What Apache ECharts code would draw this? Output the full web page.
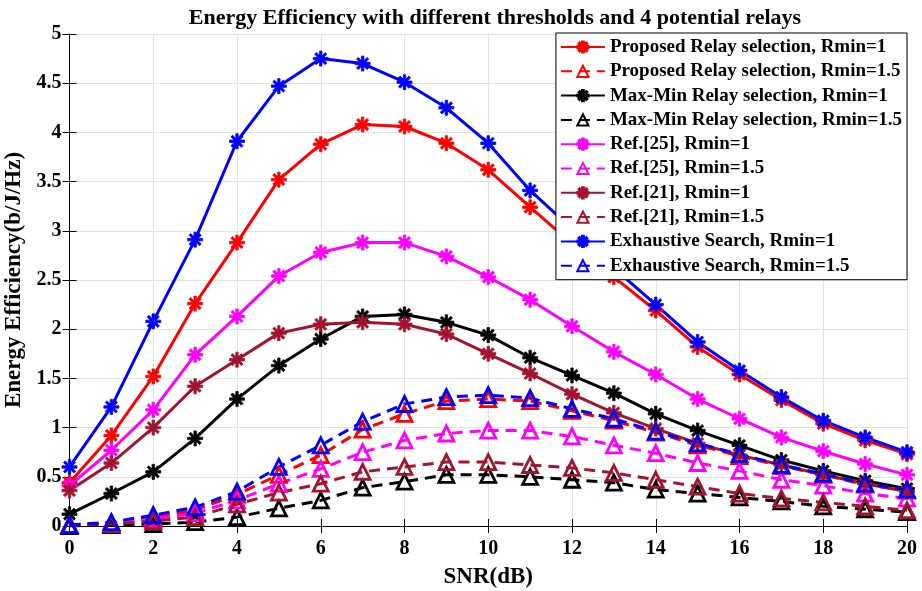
<!DOCTYPE html>
<html>
<head>
<meta charset="utf-8">
<title>Energy Efficiency</title>
<script src="https://cdn.jsdelivr.net/npm/echarts@6/dist/echarts.min.js"></script>
<style>
  html, body { margin: 0; padding: 0; background: #fff; }
  #chart { width: 922px; height: 591px; }
</style>
</head>
<body>
<div id="chart"></div>
<script>
// SNR (dB) on the x axis
const snr = [0, 1, 2, 3, 4, 5, 6, 7, 8, 9, 10, 11, 12, 13, 14, 15, 16, 17, 18, 19, 20];

// Rmin = 1 curves
const proposedR1 = [0.44, 0.92, 1.52, 2.26, 2.88, 3.52, 3.88, 4.08, 4.06, 3.89, 3.62, 3.24, 2.87, 2.53, 2.19, 1.82, 1.54, 1.28, 1.04, 0.87, 0.73];
const maxMinR1 = [0.12, 0.33, 0.55, 0.89, 1.29, 1.63, 1.90, 2.13, 2.15, 2.07, 1.94, 1.71, 1.53, 1.35, 1.14, 0.97, 0.82, 0.67, 0.56, 0.46, 0.38];
const ref25R1 = [0.41, 0.77, 1.18, 1.74, 2.13, 2.54, 2.78, 2.88, 2.88, 2.74, 2.53, 2.30, 2.03, 1.77, 1.54, 1.29, 1.09, 0.90, 0.76, 0.63, 0.52];
const ref21R1 = [0.36, 0.64, 1.00, 1.42, 1.69, 1.96, 2.05, 2.07, 2.05, 1.95, 1.75, 1.55, 1.34, 1.15, 0.99, 0.84, 0.72, 0.62, 0.52, 0.43, 0.35];
const exhaustiveR1 = [0.60, 1.21, 2.08, 2.91, 3.91, 4.47, 4.75, 4.70, 4.51, 4.25, 3.89, 3.41, 3.02, 2.62, 2.25, 1.87, 1.58, 1.31, 1.07, 0.90, 0.75];

// Rmin = 1.5 curves
const proposedR15 = [0.01, 0.03, 0.09, 0.16, 0.32, 0.52, 0.72, 0.98, 1.14, 1.27, 1.29, 1.27, 1.17, 1.07, 0.95, 0.82, 0.71, 0.61, 0.52, 0.42, 0.36];
const maxMinR15 = [0.00, 0.01, 0.02, 0.04, 0.09, 0.18, 0.26, 0.39, 0.45, 0.52, 0.52, 0.50, 0.47, 0.44, 0.37, 0.33, 0.29, 0.25, 0.20, 0.17, 0.14];
const ref25R15 = [0.01, 0.03, 0.07, 0.13, 0.26, 0.43, 0.58, 0.75, 0.87, 0.94, 0.97, 0.97, 0.91, 0.82, 0.74, 0.64, 0.56, 0.47, 0.41, 0.33, 0.28];
const ref21R15 = [0.01, 0.02, 0.05, 0.09, 0.22, 0.34, 0.43, 0.55, 0.60, 0.65, 0.65, 0.62, 0.59, 0.54, 0.47, 0.40, 0.33, 0.28, 0.24, 0.20, 0.16];
const exhaustiveR15 = [0.01, 0.04, 0.11, 0.19, 0.35, 0.60, 0.82, 1.06, 1.24, 1.31, 1.33, 1.30, 1.19, 1.09, 0.96, 0.84, 0.73, 0.62, 0.53, 0.43, 0.37];

const xTicks = [0, 2, 4, 6, 8, 10, 12, 14, 16, 18, 20];
const yTicks = [0, 0.5, 1, 1.5, 2, 2.5, 3, 3.5, 4, 4.5, 5];

const FONT = '"Liberation Serif", "Times New Roman", serif';

// MATLAB style asterisk marker
const ASTERISK = 'path://M0 8.4L20 8.4L20 11.6L0 11.6Z M8.4 0L11.6 0L11.6 20L8.4 20Z ' +
    'M4.13 1.87L18.13 15.87L15.87 18.13L1.87 4.13Z M15.87 1.87L18.13 4.13L4.13 18.13L1.87 15.87Z';

const curves = [
    { name: 'Proposed Relay selection, Rmin=1', data: proposedR1, color: '#ff0000', dashed: false },
    { name: 'Proposed Relay selection, Rmin=1.5', data: proposedR15, color: '#ff0000', dashed: true },
    { name: 'Max-Min Relay selection, Rmin=1', data: maxMinR1, color: '#000000', dashed: false },
    { name: 'Max-Min Relay selection, Rmin=1.5', data: maxMinR15, color: '#000000', dashed: true },
    { name: 'Ref.[25], Rmin=1', data: ref25R1, color: '#ff00ff', dashed: false },
    { name: 'Ref.[25], Rmin=1.5', data: ref25R15, color: '#ff00ff', dashed: true },
    { name: 'Ref.[21], Rmin=1', data: ref21R1, color: '#a2142f', dashed: false },
    { name: 'Ref.[21], Rmin=1.5', data: ref21R15, color: '#a2142f', dashed: true },
    { name: 'Exhaustive Search, Rmin=1', data: exhaustiveR1, color: '#0000ff', dashed: false },
    { name: 'Exhaustive Search, Rmin=1.5', data: exhaustiveR15, color: '#0000ff', dashed: true }
];

const series = curves.map(c => ({
    name: c.name,
    type: 'line',
    data: snr.map((x, i) => [x, c.data[i]]),
    symbol: c.dashed ? 'triangle' : ASTERISK,
    symbolSize: 15,
    symbolKeepAspect: true,
    lineStyle: {
        color: c.color,
        width: 3,
        type: c.dashed ? [11, 7] : 'solid'
    },
    itemStyle: c.dashed
        ? { color: 'rgba(255,255,255,0)', borderColor: c.color, borderWidth: 2.8 }
        : { color: c.color, borderColor: c.color, borderWidth: 0.8 },
    emphasis: { disabled: true },
    animation: false
}));

const chart = echarts.init(document.getElementById('chart'));

const tickLabel = { color: '#000', fontFamily: FONT, fontWeight: 'bold', fontSize: 20 };
const nameStyle = { color: '#000', fontFamily: FONT, fontWeight: 'bold', fontSize: 23 };

chart.setOption({
    backgroundColor: '#fff',
    animation: false,
    title: {
        text: 'Energy Efficiency with different thresholds and 4 potential relays',
        left: 490,
        top: 2,
        textAlign: 'center',
        textStyle: { color: '#000', fontFamily: FONT, fontWeight: 'bold', fontSize: 22 }
    },
    grid: { left: 69.5, right: 15, top: 34, bottom: 65, outerBoundsMode: 'none', containLabel: false },
    legend: {
        orient: 'vertical',
        right: 15,
        top: 33,
        align: 'left',
        backgroundColor: '#fff',
        borderColor: '#000',
        borderWidth: 1,
        borderRadius: 0,
        padding: [4, 5, 4, 4],
        itemWidth: 44,
        itemHeight: 14,
        itemGap: 4.3,
        textStyle: { color: '#000', fontFamily: FONT, fontWeight: 'bold', fontSize: 19, lineHeight: 20 },
        data: curves.map(c => c.name)
    },
    xAxis: [
        {
            type: 'value',
            min: 0,
            max: 20,
            interval: 2,
            name: 'SNR(dB)',
            nameLocation: 'middle',
            nameGap: 40,
            nameTextStyle: nameStyle,
            axisLine: { show: true, lineStyle: { color: '#000', width: 1 } },
            axisTick: { show: true, inside: true, length: 7, lineStyle: { color: '#000' } },
            axisLabel: Object.assign({ margin: 13, formatter: v => xTicks.includes(v) ? String(v) : '' }, tickLabel),
            splitLine: { show: true, lineStyle: { color: '#e1e1e1', width: 1 } }
        },
        {
            type: 'value',
            position: 'top',
            min: 0,
            max: 20,
            interval: 2,
            axisLine: { show: true, lineStyle: { color: '#000', width: 1 } },
            axisTick: { show: true, inside: true, length: 7, lineStyle: { color: '#000' } },
            axisLabel: { show: false },
            splitLine: { show: false }
        }
    ],
    yAxis: [
        {
            type: 'value',
            min: 0,
            max: 5,
            interval: 0.5,
            name: 'Energy Efficiency(b/J/Hz)',
            nameLocation: 'middle',
            nameGap: 41,
            nameTextStyle: nameStyle,
            axisLine: { show: true, lineStyle: { color: '#000', width: 1 } },
            axisTick: { show: true, inside: true, length: 7, lineStyle: { color: '#000' } },
            axisLabel: Object.assign({ margin: 8, formatter: v => yTicks.includes(v) ? String(v) : '' }, tickLabel),
            splitLine: { show: true, lineStyle: { color: '#e1e1e1', width: 1 } }
        },
        {
            type: 'value',
            position: 'right',
            min: 0,
            max: 5,
            interval: 0.5,
            axisLine: { show: true, lineStyle: { color: '#000', width: 1 } },
            axisTick: { show: true, inside: true, length: 7, lineStyle: { color: '#000' } },
            axisLabel: { show: false },
            splitLine: { show: false }
        }
    ],
    series: series
});
</script>
</body>
</html>
